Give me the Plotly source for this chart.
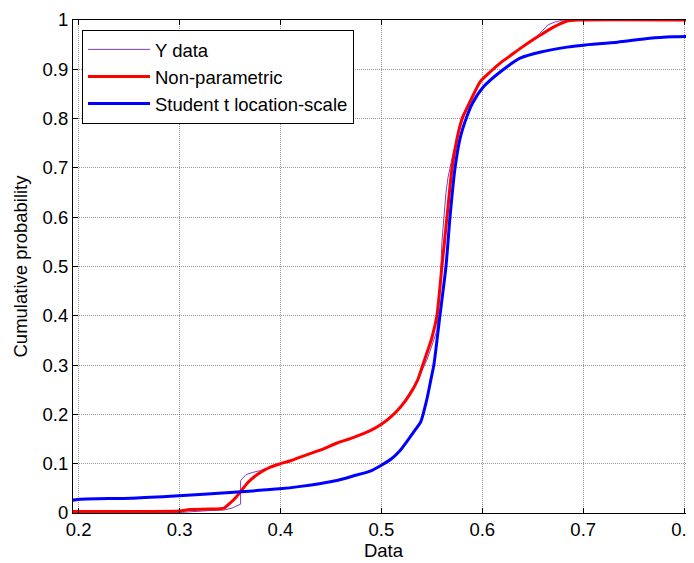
import plotly.graph_objects as go

# Empirical data (thin purple)
y_data_x = [0.194, 0.30, 0.33, 0.344, 0.352, 0.359, 0.3605, 0.3605, 0.366, 0.372, 0.380, 0.390,
            0.400, 0.423, 0.456, 0.489, 0.500, 0.519, 0.536, 0.545, 0.551, 0.555, 0.556, 0.558,
            0.560, 0.561, 0.562, 0.564, 0.566, 0.570, 0.575, 0.581, 0.588, 0.598, 0.618, 0.638,
            0.654, 0.665, 0.672, 0.680, 0.81]
y_data_y = [0.0, 0.001, 0.005, 0.006, 0.010, 0.016, 0.018, 0.066, 0.078, 0.082, 0.086, 0.093,
            0.100, 0.116, 0.142, 0.167, 0.180, 0.215, 0.270, 0.310, 0.345, 0.370, 0.400, 0.450,
            0.550, 0.570, 0.600, 0.650, 0.680, 0.720, 0.760, 0.800, 0.835, 0.875, 0.913, 0.943,
            0.966, 0.990, 0.996, 1.0, 1.0]

# Non-parametric fit (red)
np_x = [0.194, 0.25, 0.30, 0.31, 0.33, 0.344, 0.350, 0.356, 0.361, 0.366, 0.371, 0.377, 0.383,
        0.390, 0.400, 0.410, 0.423, 0.440, 0.456, 0.472, 0.489, 0.500, 0.510, 0.519, 0.528,
        0.536, 0.541, 0.546, 0.550, 0.555, 0.560, 0.565, 0.570, 0.575, 0.580, 0.588, 0.598,
        0.608, 0.618, 0.628, 0.638, 0.648, 0.658, 0.671, 0.684, 0.695, 0.81]
np_y = [0.003, 0.003, 0.004, 0.007, 0.008, 0.010, 0.020, 0.032, 0.045, 0.058, 0.068, 0.078, 0.086,
        0.093, 0.100, 0.106, 0.116, 0.128, 0.142, 0.153, 0.167, 0.180, 0.196, 0.215, 0.240,
        0.270, 0.300, 0.330, 0.355, 0.400, 0.500, 0.600, 0.700, 0.760, 0.800, 0.835, 0.875,
        0.895, 0.913, 0.928, 0.943, 0.957, 0.970, 0.986, 0.998, 1.0, 1.0]

# Student t location-scale fit (blue)
st_x = [0.194, 0.202, 0.252, 0.291, 0.324, 0.361, 0.399, 0.420, 0.440, 0.456, 0.472, 0.489,
        0.500, 0.510, 0.519, 0.527, 0.534, 0.539, 0.545, 0.549, 0.552, 0.558, 0.564, 0.568,
        0.573, 0.578, 0.584, 0.590, 0.601, 0.618, 0.638, 0.658, 0.684, 0.700, 0.734, 0.766,
        0.789, 0.81]
st_y = [0.026, 0.028, 0.030, 0.034, 0.038, 0.043, 0.049, 0.054, 0.060, 0.066, 0.075, 0.085,
        0.097, 0.110, 0.128, 0.150, 0.170, 0.185, 0.230, 0.270, 0.300, 0.400, 0.500, 0.600,
        0.700, 0.760, 0.800, 0.830, 0.864, 0.895, 0.923, 0.935, 0.945, 0.949, 0.955, 0.963,
        0.966, 0.967]

x_ticks = [0.2, 0.3, 0.4, 0.5, 0.6, 0.7, 0.8]
y_ticks = [0, 0.1, 0.2, 0.3, 0.4, 0.5, 0.6, 0.7, 0.8, 0.9, 1]

FONT = "Liberation Sans, Arial, sans-serif"
FS = 18.5

fig = go.Figure()
fig.add_trace(go.Scatter(x=y_data_x, y=y_data_y, mode="lines", name="Y data",
                         line=dict(color="#7b3fc4", width=1)))
fig.add_trace(go.Scatter(x=np_x, y=np_y, mode="lines", name="Non-parametric",
                         line=dict(color="#ff0000", width=3, shape="spline", smoothing=0.6)))
fig.add_trace(go.Scatter(x=st_x, y=st_y, mode="lines", name="Student t location-scale",
                         line=dict(color="#0000ff", width=3, shape="spline", smoothing=0.6)))

axis_common = dict(
    showgrid=True, gridcolor="rgba(0,0,0,0.4)", griddash="1px,1px", gridwidth=1,
    zeroline=False, showline=True, linecolor="black", linewidth=1,
    ticks="inside", ticklen=5, tickcolor="black", automargin=False,
    ticklabeloverflow="allow",
    tickfont=dict(family=FONT, size=FS, color="black"),
)

# The page body adds an 8px offset, so the figure is 686x555 and fills the window.
fig.update_layout(
    width=686, height=555,
    margin=dict(l=65, r=0, t=12, b=50),
    paper_bgcolor="white", plot_bgcolor="white",
    font=dict(family=FONT, size=FS, color="black"),
    showlegend=True,
    legend=dict(x=0.0145, y=0.98, xanchor="left", yanchor="top",
                bgcolor="white", bordercolor="black", borderwidth=1,
                font=dict(family=FONT, size=FS, color="black"),
                itemwidth=62, tracegroupgap=0),
    xaxis=dict(range=[0.1944, 0.8098], tickvals=x_ticks, mirror="ticks",
               title=dict(text="Data", standoff=2, font=dict(family=FONT, size=FS)),
               **axis_common),
    yaxis=dict(range=[0, 1], tickvals=y_ticks, mirror=False,
               title=dict(text="Cumulative probability", standoff=10, font=dict(family=FONT, size=FS)),
               **axis_common),
)

fig.write_html("out.html")
